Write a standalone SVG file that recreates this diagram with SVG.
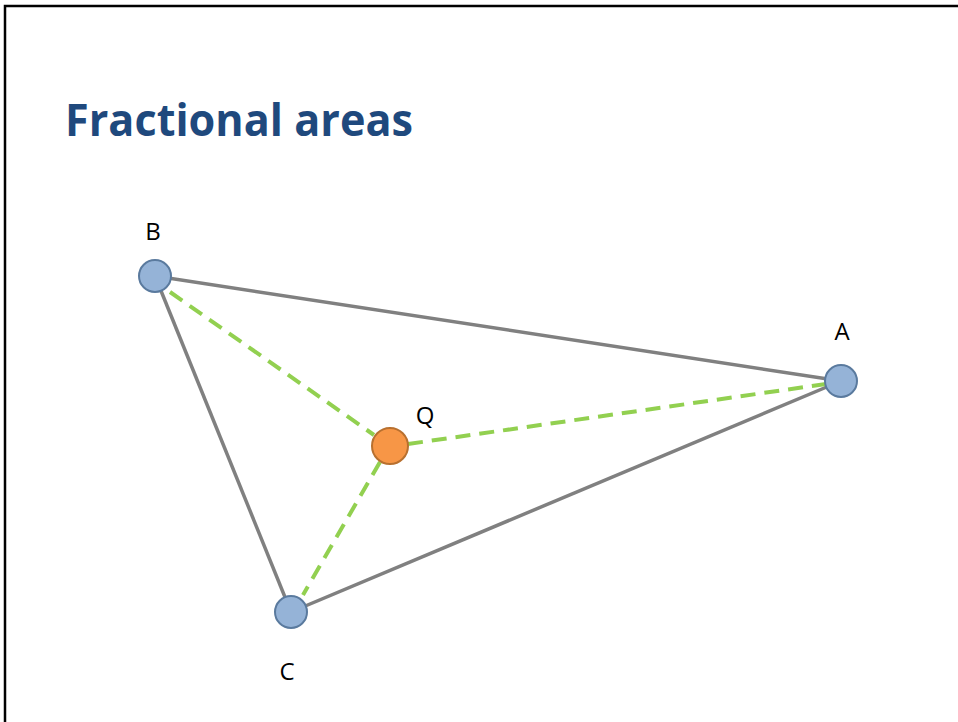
<svg xmlns="http://www.w3.org/2000/svg" width="958" height="722" viewBox="0 0 958 722">
<style>
.edge{stroke:#808080;stroke-width:3.5;fill:none}
.dash{stroke:#92D050;stroke-width:4;fill:none;stroke-dasharray:15 9}
.v{fill:#95B3D7;stroke:#5A7A9E;stroke-width:2}
.q{fill:#F79646;stroke:#B8702F;stroke-width:2}
.lbl{font-family:"Open Sans","Liberation Sans",sans-serif;font-size:24px;fill:#000;text-anchor:middle}
.title{font-family:"Open Sans","Liberation Sans",sans-serif;font-weight:bold;font-size:44px;fill:#1F497D}
</style>
<rect width="958" height="722" fill="#fff"/>
<path d="M5,722 V6 H958" stroke="#000" stroke-width="2.5" fill="none"/>
<text class="title" x="65" y="136" textLength="348" lengthAdjust="spacingAndGlyphs">Fractional areas</text>
<g id="connectors">
<line class="edge" x1="155" y1="276" x2="841" y2="381"/>
<line class="edge" x1="155" y1="276" x2="291" y2="612"/>
<line class="edge" x1="291" y1="612" x2="841" y2="381"/>
<line class="dash" x1="170" y1="292" x2="374" y2="435"/>
<line class="dash" x1="380" y1="462" x2="303" y2="595"/>
<line class="dash" x1="408" y1="444" x2="826" y2="384"/>
</g>
<g id="B"><circle class="v" cx="155" cy="276" r="16"/><text class="lbl" x="153" y="240">B</text></g>
<g id="A"><circle class="v" cx="841" cy="381" r="16"/><text class="lbl" x="842" y="340">A</text></g>
<g id="C"><circle class="v" cx="291" cy="612" r="16"/><text class="lbl" x="287" y="680">C</text></g>
<g id="Q"><circle class="q" cx="390" cy="446" r="18"/><text class="lbl" x="425" y="424">Q</text></g>
</svg>
